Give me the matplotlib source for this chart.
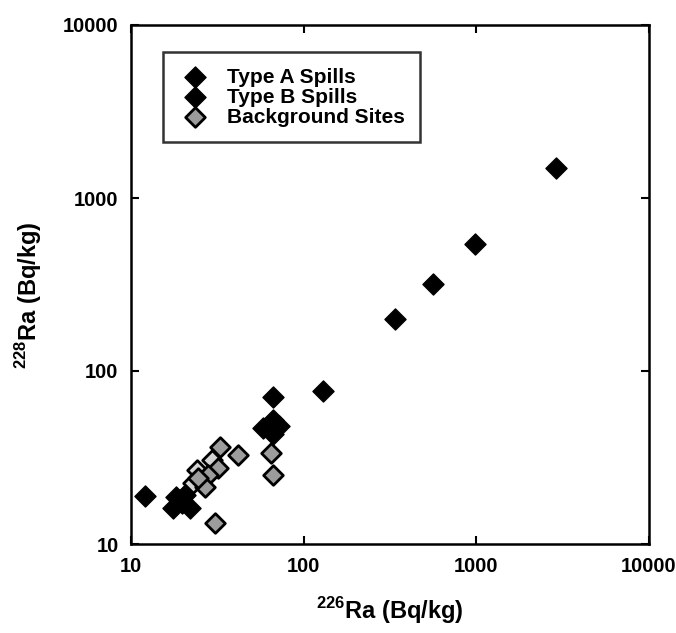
import numpy as np
import matplotlib.pyplot as plt

plt.rcParams['font.family'] = ['Liberation Sans', 'DejaVu Sans']
plt.rcParams['font.weight'] = 'bold'
plt.rcParams['mathtext.fontset'] = 'custom'
plt.rcParams['mathtext.bf'] = 'Liberation Sans:bold'
plt.rcParams['mathtext.rm'] = 'Liberation Sans:bold'

# values (Bq/kg)
typeA_ra226 = [12, 66, 130, 336, 564, 986, 2900]
typeA_ra228 = [19, 71, 77, 200, 318, 542, 1490]

typeB_ra226 = [58, 66, 72, 66, 18.2, 20.5, 17.5, 21.9, 19.7]
typeB_ra228 = [47, 52, 48, 43, 18.7, 19.2, 16.2, 16.2, 17.3]

bg_ra226 = [32.7, 41.7, 65, 66, 32, 28, 26.8, 30.6, 24.5]
bg_ra228 = [36.4, 32.7, 33.4, 25.1, 27.4, 25.1, 21.4, 13.2, 24.0]
# lighter-filled background points
bg2_ra226 = [29.3, 24, 22.9]
bg2_ra228 = [30.6, 26.8, 22.4]

ticks = [10, 100, 1000, 10000]
tick_labels = ['10', '100', '1000', '10000']

fig = plt.figure(figsize=(6.76, 6.33), dpi=100)
ax = fig.add_axes([131 / 676, 1 - 544 / 633, 518 / 676, 519 / 633])

ax.scatter(bg2_ra226, bg2_ra228, marker='D', s=100, c='#d4d4d4',
           edgecolors='black', linewidths=2.0, zorder=3)
ax.scatter(bg_ra226, bg_ra228, marker='D', s=100, c='#9c9c9c',
           edgecolors='black', linewidths=2.0, zorder=3,
           label='Background Sites')
ax.scatter(typeB_ra226, typeB_ra228, marker='D', s=115, c='black',
           edgecolors='black', linewidths=1, zorder=4, label='Type B Spills')
ax.scatter(typeA_ra226, typeA_ra228, marker='D', s=115, c='black',
           edgecolors='black', linewidths=1, zorder=4, label='Type A Spills')

ax.set_xscale('log')
ax.set_yscale('log')
ax.set_xlim(10, 10000)
ax.set_ylim(10, 10000)
ax.set_xticks(ticks)
ax.set_xticklabels(tick_labels)
ax.set_yticks(ticks)
ax.set_yticklabels(tick_labels)
ax.minorticks_off()
ax.tick_params(direction='in', length=6, width=1.5, top=True, right=True,
               labelsize=14.5, pad=9)
for sp in ax.spines.values():
    sp.set_linewidth(1.8)

ax.set_xlabel(r'$^{\mathbf{226}}$Ra (Bq/kg)', fontsize=17, fontweight='bold',
              labelpad=14)
ax.set_ylabel(r'$^{\mathbf{228}}$Ra (Bq/kg)', fontsize=17, fontweight='bold')
ax.yaxis.set_label_coords(-0.167, 0.48)

h, l = ax.get_legend_handles_labels()
order = [2, 1, 0]
leg = ax.legend([h[i] for i in order], [l[i] for i in order],
                loc='upper left', bbox_to_anchor=(0.062, 0.948),
                fontsize=15, frameon=True, fancybox=False,
                edgecolor='black', labelspacing=0.05, handletextpad=0.7,
                handlelength=1.6, borderpad=0.75, borderaxespad=0)
leg.get_frame().set_linewidth(1.8)
for t in leg.get_texts():
    t.set_fontweight('bold')

fig.savefig('out.png', dpi=100)
